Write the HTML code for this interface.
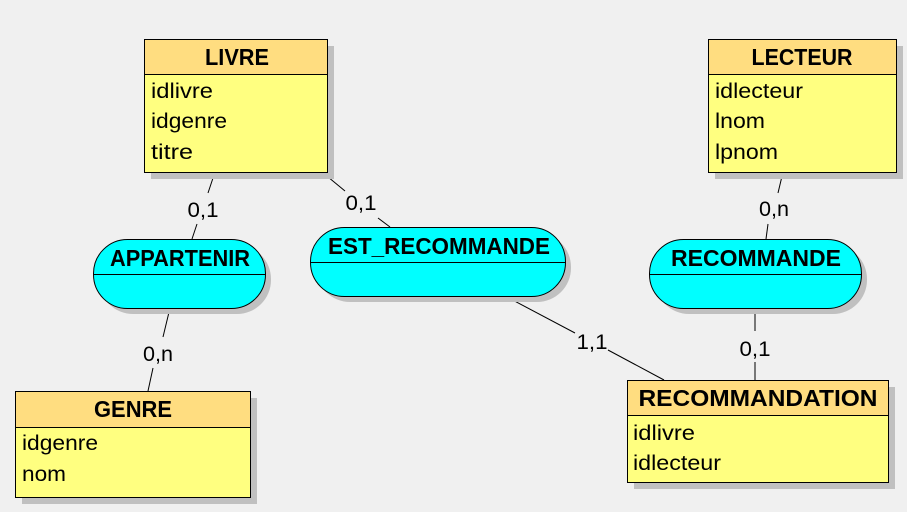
<!DOCTYPE html>
<html><head><meta charset="utf-8"><style>
html,body{margin:0;padding:0;background:#f0f0f0;}
svg{display:block;}
text{font-family:"Liberation Sans",sans-serif;fill:#000;}
.h{font-weight:bold;font-size:23px;}
.a{font-size:21px;}
.c{font-size:21px;}
</style></head><body>
<svg width="907" height="512" viewBox="0 0 907 512" xmlns="http://www.w3.org/2000/svg">
<rect width="907" height="512" fill="#f0f0f0"/>
<g stroke="#000" stroke-width="1">
<line x1="215" y1="172" x2="208" y2="193"/><line x1="197" y1="224" x2="192" y2="239"/>
<line x1="322" y1="172" x2="345" y2="191"/><line x1="378" y1="218" x2="390" y2="227"/>
<line x1="783" y1="172" x2="778" y2="193"/><line x1="768" y1="224" x2="766" y2="239"/>
<line x1="170" y1="308" x2="163" y2="337"/><line x1="153" y1="368" x2="148" y2="391"/>
<line x1="505" y1="296" x2="575" y2="333"/><line x1="608" y1="350" x2="664" y2="380"/>
<line x1="755" y1="308" x2="755" y2="331"/><line x1="755" y1="362" x2="755" y2="380"/>
</g>
<text class="c" x="203" y="217" text-anchor="middle" textLength="31" lengthAdjust="spacingAndGlyphs">0,1</text>
<text class="c" x="361" y="210" text-anchor="middle" textLength="31" lengthAdjust="spacingAndGlyphs">0,1</text>
<text class="c" x="774" y="216" text-anchor="middle" textLength="30" lengthAdjust="spacingAndGlyphs">0,n</text>
<text class="c" x="158" y="361" text-anchor="middle" textLength="30" lengthAdjust="spacingAndGlyphs">0,n</text>
<text class="c" x="592" y="349" text-anchor="middle" textLength="31" lengthAdjust="spacingAndGlyphs">1,1</text>
<text class="c" x="755" y="356" text-anchor="middle" textLength="31" lengthAdjust="spacingAndGlyphs">0,1</text>

<rect x="151" y="46" width="183" height="133" fill="#c0c0c0"/>
<rect x="144.5" y="39.5" width="183" height="133" fill="#ffff80" stroke="#000"/>
<rect x="144.5" y="39.5" width="183" height="35" fill="#ffdd80" stroke="#000"/>
<text class="h" x="237" y="65" text-anchor="middle" textLength="64" lengthAdjust="spacingAndGlyphs">LIVRE</text>
<text class="a" x="151" y="98" textLength="62" lengthAdjust="spacingAndGlyphs">idlivre</text>
<text class="a" x="151" y="128" textLength="76" lengthAdjust="spacingAndGlyphs">idgenre</text>
<text class="a" x="151" y="159" textLength="42" lengthAdjust="spacingAndGlyphs">titre</text>

<rect x="715" y="46" width="188" height="133" fill="#c0c0c0"/>
<rect x="708.5" y="39.5" width="188" height="133" fill="#ffff80" stroke="#000"/>
<rect x="708.5" y="39.5" width="188" height="35" fill="#ffdd80" stroke="#000"/>
<text class="h" x="802" y="65" text-anchor="middle" textLength="101" lengthAdjust="spacingAndGlyphs">LECTEUR</text>
<text class="a" x="715" y="98" textLength="88" lengthAdjust="spacingAndGlyphs">idlecteur</text>
<text class="a" x="715" y="128" textLength="50" lengthAdjust="spacingAndGlyphs">lnom</text>
<text class="a" x="715" y="159" textLength="63" lengthAdjust="spacingAndGlyphs">lpnom</text>

<rect x="22" y="398" width="235" height="106" fill="#c0c0c0"/>
<rect x="15.5" y="391.5" width="235" height="106" fill="#ffff80" stroke="#000"/>
<rect x="15.5" y="391.5" width="235" height="36" fill="#ffdd80" stroke="#000"/>
<text class="h" x="133" y="417" text-anchor="middle" textLength="78" lengthAdjust="spacingAndGlyphs">GENRE</text>
<text class="a" x="22" y="450" textLength="76" lengthAdjust="spacingAndGlyphs">idgenre</text>
<text class="a" x="22" y="481" textLength="44" lengthAdjust="spacingAndGlyphs">nom</text>

<rect x="634" y="387" width="261" height="102" fill="#c0c0c0"/>
<rect x="627.5" y="380.5" width="261" height="102" fill="#ffff80" stroke="#000"/>
<rect x="627.5" y="380.5" width="261" height="35" fill="#ffdd80" stroke="#000"/>
<text class="h" x="758" y="406" text-anchor="middle" textLength="239" lengthAdjust="spacingAndGlyphs">RECOMMANDATION</text>
<text class="a" x="633" y="440" textLength="62" lengthAdjust="spacingAndGlyphs">idlivre</text>
<text class="a" x="633" y="470" textLength="88" lengthAdjust="spacingAndGlyphs">idlecteur</text>

<rect x="99" y="245" width="172" height="69" rx="34" fill="#c0c0c0"/>
<rect x="93.5" y="239.5" width="172" height="69" rx="34" fill="#00ffff" stroke="#000"/>
<line x1="94" y1="274.5" x2="265" y2="274.5" stroke="#000"/>
<text class="h" x="180" y="266" text-anchor="middle" textLength="140" lengthAdjust="spacingAndGlyphs">APPARTENIR</text>

<rect x="316" y="233" width="255" height="69" rx="34" fill="#c0c0c0"/>
<rect x="310.5" y="227.5" width="255" height="69" rx="34" fill="#00ffff" stroke="#000"/>
<line x1="311" y1="262.5" x2="565" y2="262.5" stroke="#000"/>
<text class="h" x="439" y="254" text-anchor="middle" textLength="222" lengthAdjust="spacingAndGlyphs">EST_RECOMMANDE</text>

<rect x="655" y="245" width="212" height="69" rx="34" fill="#c0c0c0"/>
<rect x="649.5" y="239.5" width="212" height="69" rx="34" fill="#00ffff" stroke="#000"/>
<line x1="650" y1="274.5" x2="861" y2="274.5" stroke="#000"/>
<text class="h" x="756" y="266" text-anchor="middle" textLength="170" lengthAdjust="spacingAndGlyphs">RECOMMANDE</text>
</svg>
</body></html>
